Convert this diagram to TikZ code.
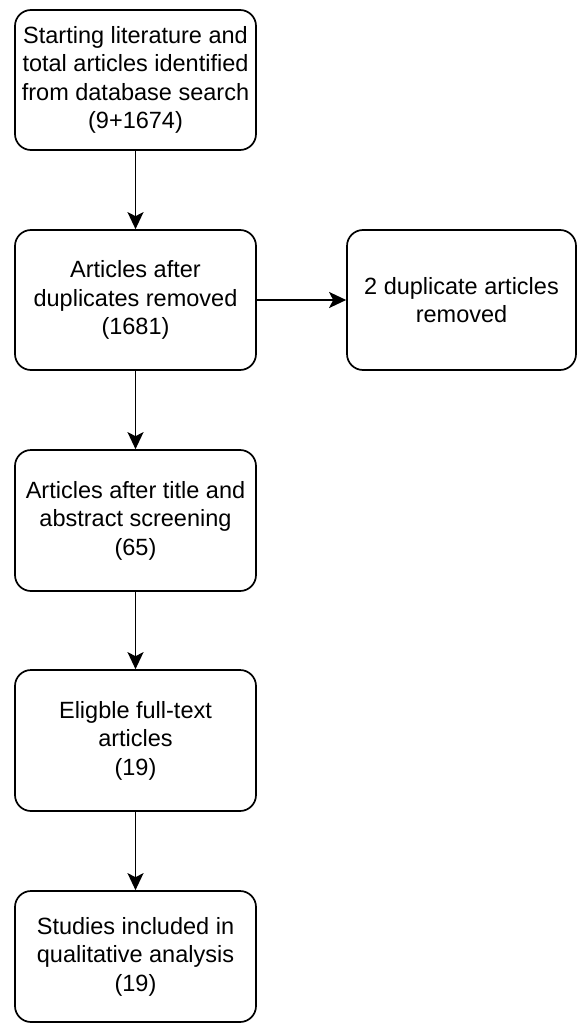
\documentclass[tikz,border=0pt]{standalone}
\usepackage{fontspec}
\setmainfont{Liberation Sans}
\usetikzlibrary{arrows.meta}
\begin{document}
\begin{tikzpicture}[x=1pt,y=-1pt,
  flowbox/.style={draw=black, line width=1.7pt, rounded corners=16pt, align=center,
    font=\fontsize{23.5}{28.5}\selectfont, inner sep=0pt},
  flowarrow/.style={draw=black, line width=1.7pt, -{Stealth[length=17pt,width=16pt,inset=4pt]}}]
\useasboundingbox (0,0) rectangle (577,1024);
\node[flowbox, minimum width=241pt, minimum height=140pt] (b1) at (135.5,80) {Starting literature and\\total articles identified\\from database search\\(9+1674)};
\node[flowbox, minimum width=241pt, minimum height=140pt] (b2) at (135.5,300) {Articles after\\duplicates removed\\(1681)};
\node[flowbox, minimum width=229pt, minimum height=140pt] (r2) at (461.5,300) {2 duplicate articles\\removed};
\node[flowbox, minimum width=241pt, minimum height=141pt] (b3) at (135.5,520.5) {Articles after title and\\abstract screening\\(65)};
\node[flowbox, minimum width=241pt, minimum height=141pt] (b4) at (135.5,740.5) {Eligble full-text\\articles\\(19)};
\node[flowbox, minimum width=241pt, minimum height=131pt] (b5) at (135.5,956.5) {Studies included in\\qualitative analysis\\(19)};
\draw[flowarrow] (b1) -- (b2);
\draw[flowarrow] (b2) -- (r2);
\draw[flowarrow] (b2) -- (b3);
\draw[flowarrow] (b3) -- (b4);
\draw[flowarrow] (b4) -- (b5);
\end{tikzpicture}
\end{document}
